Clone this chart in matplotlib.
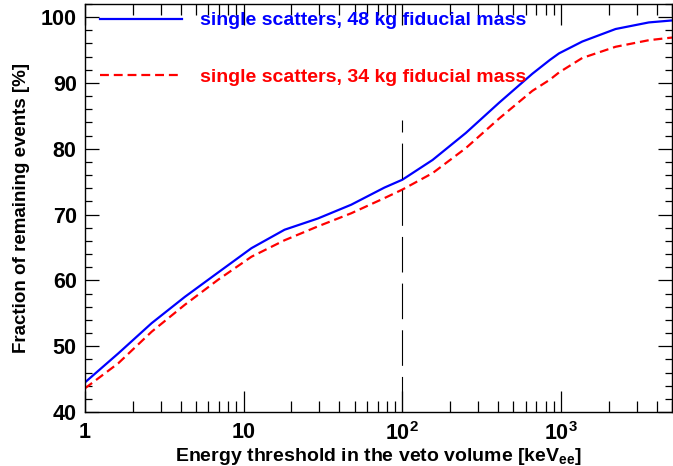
import numpy as np
import matplotlib.pyplot as plt
from matplotlib.ticker import FixedLocator, MultipleLocator, LogLocator, NullFormatter

plt.rcParams['font.family'] = ['Liberation Sans', 'DejaVu Sans']
plt.rcParams['font.weight'] = 'bold'
plt.rcParams['mathtext.fontset'] = 'custom'
plt.rcParams['mathtext.rm'] = 'Liberation Sans:bold'
plt.rcParams['mathtext.bf'] = 'Liberation Sans:bold'
plt.rcParams['mathtext.it'] = 'Liberation Sans:bold'

# Energy threshold [keVee]
energy = [1, 1.62, 2.63, 4.26, 6.9, 11.2, 18.1, 29.3, 47.6, 77, 100,
          155, 251, 407, 659, 850, 971, 1361, 2206, 3573, 5000]
# Fraction of remaining events [%]
frac_48kg = [44.5, 48.9, 53.5, 57.5, 61.2, 64.9, 67.7, 69.4, 71.5, 74.1, 75.3,
             78.3, 82.4, 87.0, 91.4, 93.5, 94.5, 96.3, 98.2, 99.2, 99.5]
frac_34kg = [43.6, 47.4, 52.2, 56.3, 60.1, 63.6, 66.1, 68.2, 70.2, 72.5, 73.8,
             76.3, 80.1, 84.6, 88.8, 90.5, 91.6, 93.8, 95.5, 96.5, 96.9]

threshold = 100
xtick_vals = [1, 10, 100, 1000]
xtick_labels = ['1', '10', r'$10^{2}$', r'$10^{3}$']

fig = plt.figure(figsize=(6.73, 4.66), dpi=100)
ax = fig.add_axes([85 / 673, 1 - 412 / 466, 587 / 673, 408 / 466])

ax.plot(energy, frac_48kg, color='#0000ff', lw=1.6,
        label='single scatters, 48 kg fiducial mass')
ax.plot(energy, frac_34kg, color='#ff0000', lw=1.6, ls=(0, (4, 2.2)),
        label='single scatters, 34 kg fiducial mass')
ax.plot([threshold, threshold], [40, 84.4], color='black', lw=0.8,
        ls=(0, (32, 10)))

ax.set_xscale('log')
ax.set_xlim(1, 5000)
ax.set_ylim(40, 102)

ax.xaxis.set_major_locator(FixedLocator(xtick_vals))
ax.set_xticklabels(xtick_labels)
ax.xaxis.set_minor_locator(LogLocator(base=10, subs=np.arange(2, 10)))
ax.xaxis.set_minor_formatter(NullFormatter())
ax.yaxis.set_major_locator(MultipleLocator(10))
ax.yaxis.set_minor_locator(MultipleLocator(2))

ax.tick_params(which='both', direction='in', top=True, right=True,
               labelsize=15.5, width=0.9)
ax.tick_params(axis='x', which='major', length=15, pad=7)
ax.tick_params(axis='x', which='minor', length=8)
ax.tick_params(axis='y', which='major', length=10, pad=6)
ax.tick_params(axis='y', which='minor', length=5)
for s in ax.spines.values():
    s.set_linewidth(1.0)

ax.set_xlabel(r'Energy threshold in the veto volume [keV$_{\mathrm{ee}}$]',
              fontsize=14, fontweight='bold', labelpad=1)
ax.set_ylabel('Fraction of remaining events [%]', fontsize=13.5,
              fontweight='bold', labelpad=8)

leg = ax.legend(loc='upper left', bbox_to_anchor=(94 / 673, 1 - 6 / 466),
                bbox_transform=fig.transFigure, frameon=False, fontsize=14,
                handlelength=4.2, handletextpad=0.93, labelspacing=2.0,
                borderpad=0.3, borderaxespad=0)
for t, line in zip(leg.get_texts(), leg.get_lines()):
    t.set_color(line.get_color())
    t.set_fontweight('bold')

fig.savefig('out.png', dpi=100)
